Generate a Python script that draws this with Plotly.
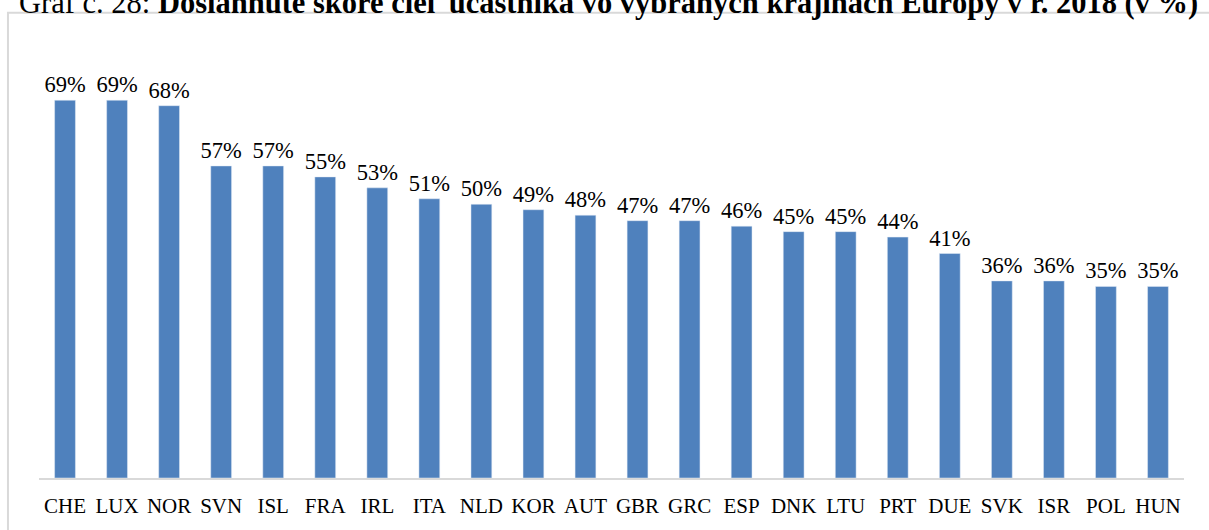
import plotly.graph_objects as go

krajiny = ['CHE', 'LUX', 'NOR', 'SVN', 'ISL', 'FRA', 'IRL', 'ITA', 'NLD', 'KOR', 'AUT',
           'GBR', 'GRC', 'ESP', 'DNK', 'LTU', 'PRT', 'DUE', 'SVK', 'ISR', 'POL', 'HUN']
skore = [69, 69, 68, 57, 57, 55, 53, 51, 50, 49, 48, 47, 47, 46, 45, 45, 44, 41, 36, 36, 35, 35]

nadpis = 'Graf č. 28: <b>Dosiahnuté skóre cieľ účastníka vo vybraných krajinách Európy v r. 2018 (v %)</b>'

serif = 'Liberation Serif, Times New Roman, serif'

fig = go.Figure(go.Bar(
    x=krajiny,
    y=skore,
    marker=dict(color='#4f81bd'),
    text=[f'{v}%' for v in skore],
    textposition='outside',
    constraintext='none',
    textfont=dict(family=serif, size=22.5, color='black'),
    outsidetextfont=dict(family=serif, size=22.5, color='black'),
    cliponaxis=False,
))

# plot area: x 39..1184 px, y 40..478 px
fig.add_shape(type='rect', xref='paper', yref='paper',
              x0=-0.0271, x1=1.03, y0=-0.15, y1=1.062,
              line=dict(color='#d9d9d9', width=2), layer='below')

fig.add_annotation(text=nadpis, xref='paper', yref='paper',
                   x=-0.019, y=1.041, xanchor='left', yanchor='bottom',
                   showarrow=False,
                   font=dict(family=serif, size=30.5, color='black'))

fig.update_layout(
    width=1209, height=530,
    margin=dict(l=39, r=25, t=40, b=52),
    paper_bgcolor='white', plot_bgcolor='white',
    bargap=0.6,
    showlegend=False,
    hovermode=False,
    xaxis=dict(showline=True, linecolor='#d9d9d9', linewidth=2, ticks='',
               ticklabelstandoff=8,
               tickfont=dict(family=serif, size=21, color='black'), showgrid=False),
    yaxis=dict(range=[0, 80], visible=False, showgrid=False),
)

fig.write_html('out.html', config={'displayModeBar': False},
               post_script="document.body.style.margin='0';")
